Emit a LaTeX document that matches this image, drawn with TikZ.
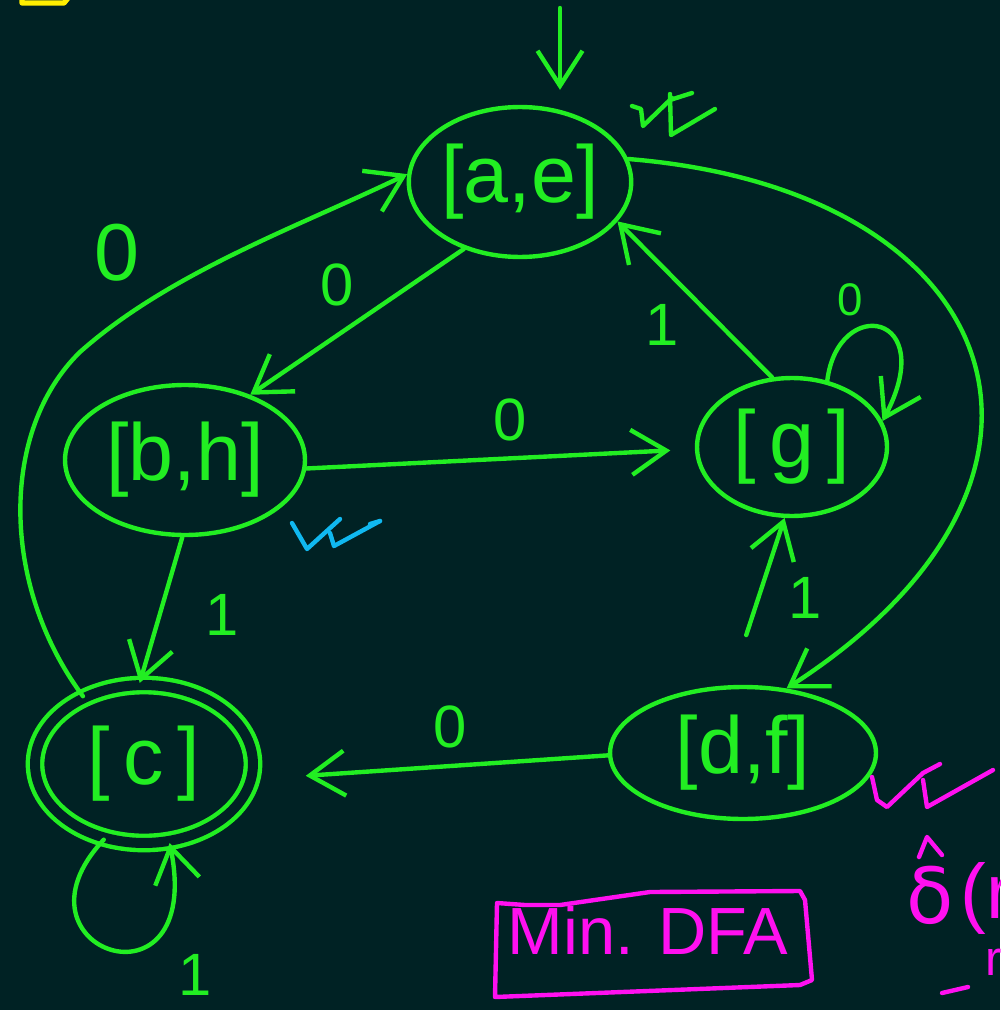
\documentclass[tikz,border=0pt]{standalone}
\usepackage{fontspec}
\setmainfont{Liberation Sans}
\newfontfamily\greekfont{DejaVu Sans}
\usetikzlibrary{shapes.geometric,arrows.meta}
\definecolor{board}{HTML}{002224}
\definecolor{chalk}{HTML}{22EE22}
\definecolor{pink}{HTML}{FF10F0}
\definecolor{sky}{HTML}{10B8F0}
\definecolor{sun}{HTML}{FFEE00}
\begin{document}
\begin{tikzpicture}[x=0.02cm,y=-0.02cm,
  pen/.style={line width=2.5pt, line cap=round, line join=round},
  state/.style={ellipse, draw=chalk, pen, inner sep=0pt, text=chalk,
    font=\fontsize{46}{46}\selectfont},
  arr/.style={pen, draw=chalk, -{Straight Barb[length=0.7cm,width=0.9cm,line width=2.5pt]}},
  lab/.style={text=chalk, inner sep=0pt, font=\fontsize{34}{34}\selectfont},
  tick/.style={pen}]
\fill[board] (0,0) rectangle (1000,1010);
\useasboundingbox (0,0) rectangle (1000,1010);
\clip (0,0) rectangle (1000,1010);

% corner mark
\draw[pen, draw=sun, line width=3pt] (22,-5) -- (22,3) -- (64,3) -- (68,-2);

% states
\node[state, minimum width=4.4cm, minimum height=3cm] (ae) at (520,182) {\raisebox{-6pt}{[a,e]}};
\node[state, minimum width=4.8cm, minimum height=3cm] (bh) at (185,460) {\raisebox{-4pt}{[b,h]}};
\node[state, minimum width=3.8cm, minimum height=2.76cm] (g) at (792,447) {[\,g\,]};
\node[state, minimum width=4.36cm, minimum height=3.16cm, double=board,
      double distance=0.2cm] (c) at (144,764) {[\,c\,]};
\node[state, minimum width=5.32cm, minimum height=2.64cm] (df) at (743,753) {[d,f]};

% start arrow
\coordinate (start) at (560,8);
\draw[arr, shorten >=0.3cm] (start) -- (start |- ae.north);

% transitions
\draw[arr] (ae.-130) -- (bh.45);
\node[lab] (l0a) at (337,285) {0};

\draw[arr] (bh.-4) -- ([xshift=-14pt]g.182);
\node[lab] (l0b) at (510,420) {0};

\draw[arr] (g.106) -- (ae.-22);
\node[lab] (l1a) at (662,325) {1};

\draw[arr] (g.62) .. controls (838,295) and (940,312) .. (g.16);
\node[lab, font=\fontsize{26}{26}\selectfont] (l0c) at (850,300) {0};

\draw[arr] (ae.12) .. controls (1010,190) and (1110,480) .. (df.56);

\draw[arr] (c.132) .. controls (0,585) and (0,430) .. (80,352)
  .. controls (170,272) and (300,226) .. (ae.176);
\node[lab, font=\fontsize{46}{46}\selectfont] (l0d) at (117,253) {0};

\draw[arr] (bh.-92) -- (c.93);
\node[lab] (l1b) at (222,615) {1};

\draw[arr, shorten <=30pt] (df.101) -- (g.-96);
\node[lab] (l1c) at (805,598) {1};

\draw[arr, shorten >=30pt] (df.181) -- (c.-8);
\node[lab] (l0e) at (450,727) {0};

\draw[arr] (c.-118) .. controls (0,950) and (205,1020) .. (c.-72);
\node[lab] (l1d) at (195,975) {1};

% tick marks beside states
\draw[tick, draw=chalk] (632,106) -- (641,109) -- (643,126) -- (672,98);
\draw[tick, draw=chalk] (670,94) -- (671,135) -- (715,109);
\draw[tick, draw=chalk] (670,100) -- (692,93);

\draw[tick, draw=sky] (292,523) -- (307,549) -- (340,519);
\draw[tick, draw=sky] (330,533) -- (334,546) -- (380,521);
\draw[tick, draw=sky] (370,524) -- (380,521);

\draw[tick, draw=pink] (872,777) -- (877,800) -- (887,807) -- (923,773) -- (940,764);
\draw[tick, draw=pink] (923,780) -- (927,807) -- (993,770);

% note box
\draw[pen, draw=pink] (497,903) -- (525,905) -- (560,905) -- (650,892) -- (800,891)
  -- (805,900) -- (812,980) -- (800,985) -- (495,997) -- cycle;
\node[text=pink, inner sep=0pt, font=\fontsize{38}{38}\selectfont] (title) at (648,930) {Min. DFA};

% margin note
\draw[pen, draw=pink] (919,857) -- (927,837) -- (942,855);
\node[text=pink, inner sep=0pt, font=\greekfont\fontsize{44}{44}\selectfont] (delta) at (930,895) {δ};
\node[text=pink, inner sep=0pt, anchor=west, font=\fontsize{44}{44}\selectfont] (arg) at (960,898) {(r};
\node[text=pink, inner sep=0pt, anchor=west, font=\fontsize{28}{28}\selectfont] (arg2) at (985,962) {r};
\draw[pen, draw=pink] (942,993) -- (968,987);
\end{tikzpicture}
\end{document}
